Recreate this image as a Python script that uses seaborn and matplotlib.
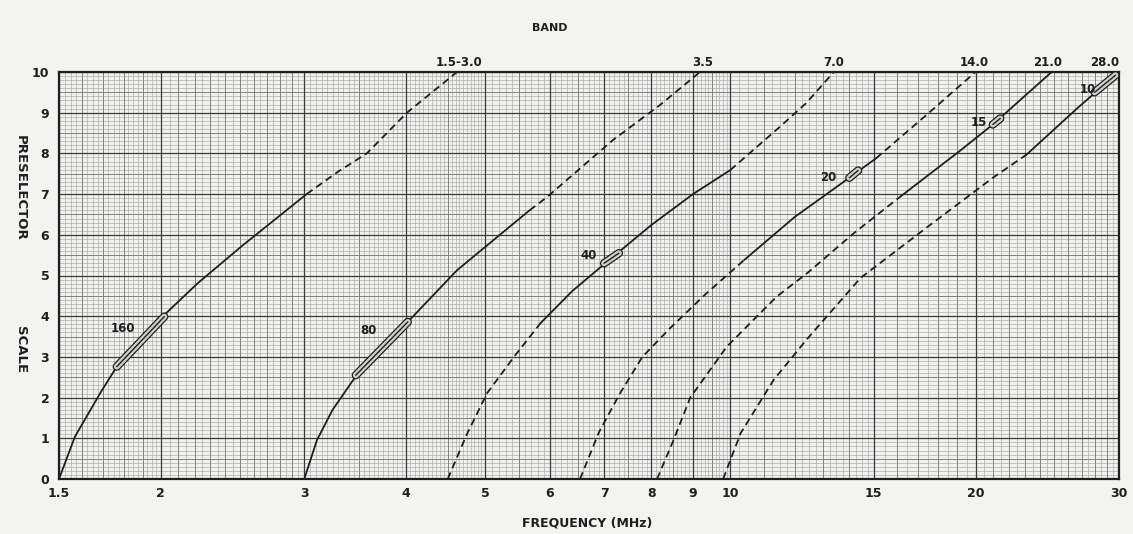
import numpy as np
import matplotlib
matplotlib.use("Agg")
import matplotlib.pyplot as plt
import seaborn as sns
from matplotlib import patheffects as pe
from matplotlib.ticker import NullLocator, FixedLocator, FixedFormatter
import matplotlib.transforms as mtransforms

# ---------------- data ----------------
# Curve "1.5-3.0" band (160 m)
c1_f = [1.5, 1.569, 1.63, 1.69, 1.766, 1.877, 2.0, 2.22, 2.51, 3.02, 3.3, 3.58, 4.01, 4.62]
c1_y = [0.0, 1.04, 1.61, 2.15, 2.76, 3.29, 3.95, 4.81, 5.71, 7.0, 7.55, 8.0, 9.0, 10.0]
c1_solid = (0, 9)
# Curve "3.5" band (80 m)
c2_f = [3.0, 3.11, 3.25, 3.48, 4.02, 4.62, 5.2, 5.67, 5.96, 7.18, 8.2, 9.18]
c2_y = [0.0, 0.96, 1.7, 2.56, 3.86, 5.13, 5.98, 6.6, 6.93, 8.33, 9.19, 10.0]
c2_solid = (0, 7)
# Curve "7.0" band (40 m)
c3_f = [4.5, 4.75, 5.03, 5.45, 5.85, 6.4, 7.1, 8.0, 9.0, 10.0, 11.5, 12.4, 13.4]
c3_y = [0.0, 1.1, 2.11, 3.05, 3.83, 4.62, 5.38, 6.24, 7.0, 7.59, 8.65, 9.24, 10.0]
c3_solid = (4, 9)
# Curve "14.0" band (20 m)
c4_f = [6.54, 6.9, 7.32, 7.8, 8.43, 9.3, 10.4, 12.0, 13.6, 15.1, 17.4, 20.0]
c4_y = [0.0, 1.15, 2.1, 3.0, 3.7, 4.52, 5.38, 6.44, 7.22, 7.88, 8.94, 10.0]
c4_solid = (6, 9)
# Curve "21.0" band (15 m)
c5_f = [8.13, 8.52, 8.93, 9.9, 11.4, 12.45, 14.2, 16.2, 19.1, 21.0, 24.8]
c5_y = [0.0, 0.96, 2.0, 3.25, 4.48, 5.07, 6.05, 6.95, 8.05, 8.71, 10.0]
c5_solid = (7, 10)
# Curve "28.0" band (10 m)
c6_f = [9.8, 10.3, 11.3, 12.4, 14.45, 17.4, 21.0, 23.1, 26.7, 30.0]
c6_y = [0.0, 1.13, 2.43, 3.42, 4.94, 6.17, 7.4, 7.97, 9.12, 10.0]
c6_solid = (7, 9)

curves = [(c1_f, c1_y, c1_solid), (c2_f, c2_y, c2_solid), (c3_f, c3_y, c3_solid),
          (c4_f, c4_y, c4_solid), (c5_f, c5_y, c5_solid), (c6_f, c6_y, c6_solid)]

# amateur band segments (small ovals) and their labels
ham_names = ["160", "80", "40", "20", "15", "10"]
ham_f = [[1.766, 2.02], [3.47, 4.02], [7.0, 7.3], [14.0, 14.35], [21.0, 21.45], [28.0, 29.7]]
ham_y = [[2.76, 3.99], [2.55, 3.86], [5.3, 5.55], [7.4, 7.58], [8.71, 8.86], [9.5, 9.92]]
ham_label_f = [1.795, 3.6, 6.7, 13.2, 20.2, 27.5]
ham_label_y = [3.7, 3.66, 5.5, 7.42, 8.75, 9.58]

# band labels along the top
band_names = ["1.5-3.0", "3.5", "7.0", "14.0", "21.0", "28.0"]
band_label_f = [4.65, 9.26, 13.4, 19.9, 24.5, 28.8]

x_ticks = [1.5, 2, 3, 4, 5, 6, 7, 8, 9, 10, 15, 20, 30]
x_tick_labels = ["1.5", "2", "3", "4", "5", "6", "7", "8", "9", "10", "15", "20", "30"]
y_ticks = list(range(0, 11))

# ---------------- figure ----------------
sns.set_theme(style="white")
plt.rcParams["font.family"] = ["DejaVu Sans"]
paper = "#f3f3f1"
ink = "#1e1e1e"

fig = plt.figure(figsize=(11.33, 5.34), dpi=100, facecolor=paper)
ax = fig.add_axes([59 / 1133, 55 / 534, 1060 / 1133, 407 / 534])
ax.set_facecolor("#f1f1ef")
ax.set_xscale("log")
ax.set_xlim(1.5, 30)
ax.set_ylim(0, 10)

# graph-paper grid
def steps(lo, hi, st):
    return np.round(np.arange(lo, hi + st / 2, st), 4)

faint_x = np.concatenate([steps(1.5, 2, 0.025), steps(2, 3, 0.05), steps(3, 5, 0.05),
                          steps(5, 10, 0.1), steps(10, 15, 0.25), steps(15, 30, 0.5)])
mid_x = np.concatenate([steps(1.5, 3, 0.1), steps(3, 10, 0.5), steps(10, 30, 1.0)])
xt = ax.get_xaxis_transform()
yt = ax.get_yaxis_transform()
ax.vlines(faint_x, 0, 1, transform=xt, color="#a9a9a7", lw=0.45, zorder=0.5)
ax.vlines(mid_x, 0, 1, transform=xt, color="#7a7a78", lw=0.6, zorder=0.6)
ax.vlines(x_ticks, 0, 1, transform=xt, color="#3a3a3a", lw=0.9, zorder=0.7)
ax.hlines(steps(0, 10, 0.1), 0, 1, transform=yt, color="#a9a9a7", lw=0.45, zorder=0.5)
ax.hlines(steps(0, 10, 0.5), 0, 1, transform=yt, color="#7a7a78", lw=0.6, zorder=0.6)
ax.hlines(y_ticks, 0, 1, transform=yt, color="#3a3a3a", lw=0.9, zorder=0.7)

# curves
for f, y, (s0, s1) in curves:
    sns.lineplot(x=f[s0:s1 + 1], y=y[s0:s1 + 1], ax=ax, color=ink, lw=1.3,
                 estimator=None, sort=False, zorder=3)
    if s0 > 0:
        sns.lineplot(x=f[:s0 + 1], y=y[:s0 + 1], ax=ax, color=ink, lw=1.3,
                     linestyle=(0, (4, 2.5)), estimator=None, sort=False, zorder=3)
    if s1 < len(f) - 1:
        sns.lineplot(x=f[s1:], y=y[s1:], ax=ax, color=ink, lw=1.3,
                     linestyle=(0, (4, 2.5)), estimator=None, sort=False, zorder=3)

# band ovals and labels
for name, hf, hy, lf, ly in zip(ham_names, ham_f, ham_y, ham_label_f, ham_label_y):
    sns.lineplot(x=hf, y=hy, ax=ax, color="#cfcfcd", lw=4.2, estimator=None, sort=False,
                 solid_capstyle="round", zorder=4,
                 path_effects=[pe.Stroke(linewidth=6.0, foreground=ink), pe.Normal()])
    sns.lineplot(x=hf, y=hy, ax=ax, color=ink, lw=1.0, estimator=None, sort=False, zorder=4.5)
    ax.text(lf, ly, name, ha="center", va="center", fontsize=8.5, fontweight="bold",
            color=ink, zorder=5)

top_tr = mtransforms.blended_transform_factory(ax.transData, ax.transAxes)
for name, lf in zip(band_names, band_label_f):
    ax.text(lf, 1.008, name, transform=top_tr, ha="center", va="bottom", fontsize=8.5,
            fontweight="bold", color=ink, clip_on=False)

# axes, ticks, labels
ax.xaxis.set_major_locator(FixedLocator(x_ticks))
ax.xaxis.set_major_formatter(FixedFormatter(x_tick_labels))
ax.xaxis.set_minor_locator(NullLocator())
ax.set_yticks(y_ticks)
ax.tick_params(axis="both", length=0, labelsize=9, colors=ink)
ax.tick_params(axis="x", pad=6)
ax.tick_params(axis="y", pad=7)
for lab in ax.get_xticklabels() + ax.get_yticklabels():
    lab.set_fontweight("bold")
ax.set_xlabel("")
ax.set_ylabel("")
for sp in ax.spines.values():
    sp.set_visible(True)
    sp.set_color(ink)
    sp.set_linewidth(1.6)

fig.text(587 / 1133, 1 - 523 / 534, "FREQUENCY (MHz)", ha="center", va="center",
         fontsize=9, fontweight="bold", color=ink)
fig.text(550 / 1133, 1 - 28 / 534, "BAND", ha="center", va="center",
         fontsize=8, fontweight="bold", color=ink)
fig.text(20 / 1133, 1 - 188 / 534, "PRESELECTOR", ha="center", va="center",
         rotation=270, fontsize=9.5, fontweight="bold", color=ink)
fig.text(20 / 1133, 1 - 350 / 534, "SCALE", ha="center", va="center",
         rotation=270, fontsize=9.5, fontweight="bold", color=ink)

fig.savefig("out.png", dpi=100, facecolor=paper)
